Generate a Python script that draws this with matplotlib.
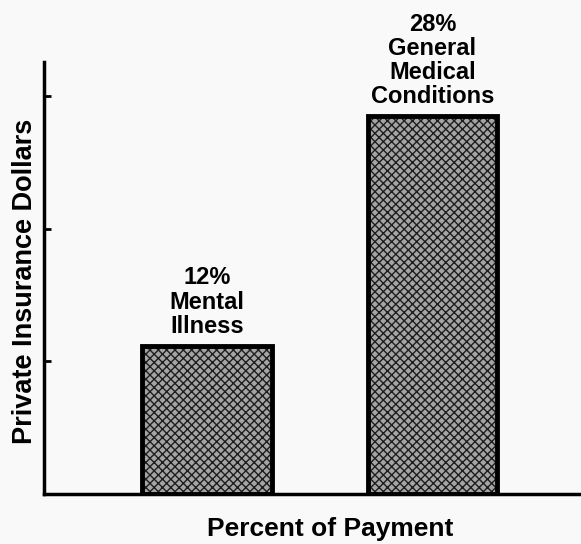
import matplotlib.pyplot as plt

# data (bar heights in tick units, tick spacing = 1)
categories = ['Mental\nIllness', 'General\nMedical\nConditions']
percents = ['12%', '28%']
heights = [1.12, 2.85]
tick_values = [1, 2, 3]

plt.rcParams['font.family'] = ['Liberation Sans', 'DejaVu Sans']

fig = plt.figure(figsize=(5.81, 5.44), dpi=100)
fig.patch.set_facecolor('#f9f9f9')
ax = fig.add_axes([0.0757, 0.0919, 0.9243, 0.7941])
ax.set_facecolor('#f9f9f9')

pos = [0, 1]
# stippled fill, then heavy black outline on top
ax.bar(pos, heights, width=0.576, color='#a4a4a4', edgecolor='#1e1e1e',
       hatch='xxxx', linewidth=0, zorder=2)
ax.bar(pos, heights, width=0.576, fill=False, edgecolor='black',
       linewidth=3.5, zorder=3)

for p, h, pct, cat in zip(pos, heights, percents, categories):
    ax.text(p, h + 0.06, pct + '\n' + cat, ha='center', va='bottom',
            fontsize=17, fontweight='bold', linespacing=1.06)

ax.set_xlim(-0.723, 1.659)
ax.set_ylim(0, 3.26)
ax.set_xticks([])
ax.set_yticks(tick_values)
ax.set_yticklabels([])
ax.tick_params(axis='y', direction='in', length=5, width=2)

for s in ['top', 'right']:
    ax.spines[s].set_visible(False)
for s in ['left', 'bottom']:
    ax.spines[s].set_linewidth(2.5)

ax.set_xlabel('Percent of Payment', fontsize=19, fontweight='bold')
ax.xaxis.set_label_coords(0.533, -0.053)
ax.set_ylabel('Private Insurance Dollars', fontsize=19.5, fontweight='bold')
ax.yaxis.set_label_coords(-0.011, 0.493)

fig.savefig('out.png', dpi=100, facecolor=fig.get_facecolor())
